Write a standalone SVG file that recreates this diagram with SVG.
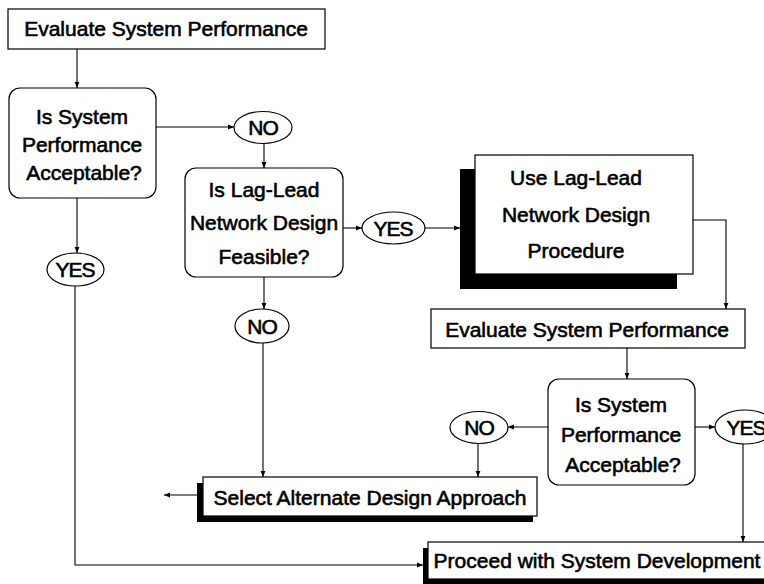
<svg xmlns="http://www.w3.org/2000/svg" width="764" height="584" viewBox="0 0 764 584">
<defs>
<marker id="ah" viewBox="0 0 10 10" refX="10" refY="5" markerWidth="6" markerHeight="6" orient="auto" markerUnits="userSpaceOnUse">
<path d="M0,1 L10,5 L0,9 Z" fill="#000"/>
</marker>
</defs>
<style>
text{font-family:"Liberation Sans",Arial,sans-serif;font-size:21px;fill:#000;stroke:#000;stroke-width:0.6px;text-anchor:middle}
.box{fill:#fff;stroke:#000;stroke-width:1.2}
.sh{fill:#000}
.lbl{letter-spacing:-1px}
.c{fill:none;stroke:#000;stroke-width:1.1;marker-end:url(#ah)}
</style>
<rect width="764" height="584" fill="#fff"/>
<g id="eval1">
<rect class="box" x="8" y="9" width="317" height="40"/>
<text x="166" y="36">Evaluate System Performance</text>
</g>
<g id="dec1">
<rect class="box" x="9" y="88" width="147" height="110" rx="11"/>
<text x="82" y="124">Is System</text>
<text x="82" y="152">Performance</text>
<text x="84" y="180">Acceptable?</text>
</g>
<g id="no1">
<ellipse class="box" cx="263" cy="127.5" rx="29" ry="16"/>
<text class="lbl" x="263" y="135">NO</text>
</g>
<g id="yes1">
<ellipse class="box" cx="75.5" cy="269.5" rx="28.5" ry="16.5"/>
<text class="lbl" x="75" y="277">YES</text>
</g>
<g id="dec2">
<rect class="box" x="185" y="168" width="158" height="109" rx="11"/>
<text x="264" y="197">Is Lag-Lead</text>
<text x="264" y="230">Network Design</text>
<text x="264" y="264">Feasible?</text>
</g>
<g id="yes2">
<ellipse class="box" cx="393.5" cy="228" rx="31.5" ry="16"/>
<text class="lbl" x="393" y="236">YES</text>
</g>
<g id="no2">
<ellipse class="box" cx="262" cy="326" rx="27" ry="17"/>
<text class="lbl" x="262" y="334">NO</text>
</g>
<g id="proc">
<rect class="sh" x="460" y="169" width="217" height="120"/>
<rect class="box" x="475" y="155" width="218" height="119"/>
<text x="576" y="185">Use Lag-Lead</text>
<text x="576" y="222">Network Design</text>
<text x="576" y="258">Procedure</text>
</g>
<g id="eval2">
<rect class="box" x="431" y="309" width="314" height="39"/>
<text x="587" y="337">Evaluate System Performance</text>
</g>
<g id="dec3">
<rect class="box" x="548" y="379" width="147" height="106" rx="11"/>
<text x="621" y="412">Is System</text>
<text x="621" y="442">Performance</text>
<text x="623" y="472">Acceptable?</text>
</g>
<g id="no3">
<ellipse class="box" cx="479" cy="427.5" rx="29" ry="16"/>
<text class="lbl" x="479" y="435">NO</text>
</g>
<g id="yes3">
<ellipse class="box" cx="745" cy="427" rx="30" ry="17"/>
<text class="lbl" x="746" y="435">YES</text>
</g>
<g id="select">
<rect class="sh" x="197" y="483" width="336" height="39"/>
<rect class="box" x="203" y="477" width="334" height="39"/>
<text x="370" y="505">Select Alternate Design Approach</text>
</g>
<g id="proceed">
<rect class="sh" x="423" y="548" width="345" height="36"/>
<rect class="box" x="428" y="542" width="340" height="37"/>
<text x="597" y="568">Proceed with System Development</text>
</g>
<g id="connectors">
<path class="c" d="M77,49 V88"/>
<path class="c" d="M156,127 H234"/>
<path class="c" d="M264,143.5 V168"/>
<path class="c" d="M343,228 H362"/>
<path class="c" d="M425,228 H460"/>
<path class="c" d="M693,220 H726 V309"/>
<path class="c" d="M627,348 V379"/>
<path class="c" d="M548,427 H508"/>
<path class="c" d="M695,427 H715"/>
<path class="c" d="M478,443.5 V477"/>
<path class="c" d="M743,444 V542"/>
<path class="c" d="M264,277 V309"/>
<path class="c" d="M263,343 V477"/>
<path class="c" d="M77,198 V253"/>
<path class="c" d="M75,286 V565 H423"/>
<path class="c" d="M203,495 H164"/>
</g>
</svg>
